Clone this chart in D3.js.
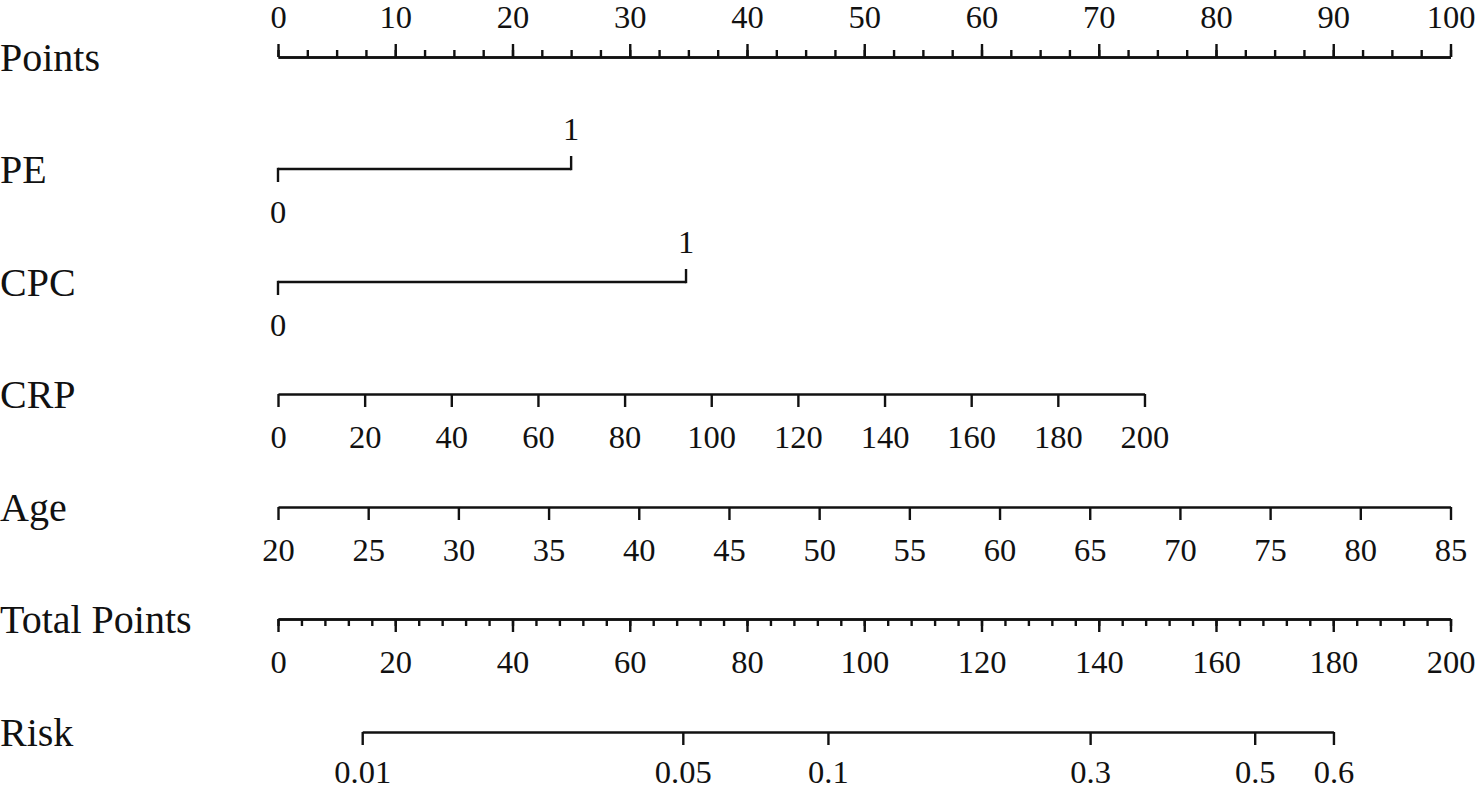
<!DOCTYPE html>
<html>
<head>
<meta charset="utf-8">
<script src="https://cdn.jsdelivr.net/npm/d3@7"></script>
<style>
  html, body { margin: 0; padding: 0; background: #fff; }
  svg text { font-family: "Liberation Serif", "Times New Roman", serif; fill: #111; }
</style>
</head>
<body>
<svg id="chart" width="1477" height="790"></svg>
<script>
// ---- Data ----
const rowNames = ["Points", "PE", "CPC", "CRP", "Age", "Total Points", "Risk"];
const pointsTicks = d3.range(0, 101, 10);
const pointsMinorTicks = d3.range(0, 100.01, 2.5);
const peValues = [0, 1];
const pePoints = [0, 25.0];
const cpcValues = [0, 1];
const cpcPoints = [0, 34.8];
const crpTicks = d3.range(0, 201, 20);
const crpPointsRange = [0, 73.9];
const ageTicks = d3.range(20, 86, 5);
const agePointsRange = [0, 100];
const totalTicks = d3.range(0, 201, 20);
const totalMinorTicks = d3.range(0, 200.01, 4);
const riskTicks = [0.01, 0.05, 0.1, 0.3, 0.5, 0.6];
const riskIntercept = 166.6;   // total points where logit(risk) = 0
const riskSlope = 33.13;       // total points per logit unit

// ---- Layout ----
const svg = d3.select("#chart");
const x0 = 278, x1 = 1450.5;
const lineY = { "Points": 57, "PE": 169, "CPC": 282, "CRP": 394, "Age": 507, "Total Points": 619, "Risk": 732 };
const tickFont = 32.5, nameFont = 40;
const stroke = "#111", sw = 2.4;
const majorLen = 13, minorLen = 7;
const fontFam = '"Liberation Serif", "Times New Roman", serif';

const xPoints = d3.scaleLinear().domain([0, 100]).range([x0, x1]);
const xTotal = d3.scaleLinear().domain([0, 200]).range([x0, x1]);

// Row names
svg.selectAll("text.name").data(rowNames).join("text")
  .attr("class", "name")
  .attr("x", 0)
  .attr("y", d => lineY[d] + 14)
  .attr("font-size", nameFont)
  .attr("font-family", fontFam)
  .text(d => d);

function styleAxis(g) {
  g.attr("font-family", fontFam).attr("font-size", tickFont);
  g.selectAll("path.domain").attr("stroke", stroke).attr("stroke-width", sw);
  g.selectAll(".tick line").attr("stroke", stroke).attr("stroke-width", sw);
  g.selectAll(".tick text")
    .attr("font-size", tickFont)
    .attr("font-family", fontFam)
    .attr("fill", "#111");
}

// Points axis (ticks upward)
svg.append("g").attr("transform", `translate(0,${lineY["Points"]})`)
  .call(d3.axisTop(xPoints).tickValues(pointsMinorTicks).tickSize(minorLen).tickSizeOuter(0).tickFormat(""))
  .call(styleAxis);
svg.append("g").attr("transform", `translate(0,${lineY["Points"]})`)
  .call(d3.axisTop(xPoints).tickValues(pointsTicks).tickSize(majorLen).tickSizeOuter(0).tickPadding(16).tickFormat(d3.format("d")))
  .call(styleAxis);

// Binary variables: 0 tick down with label below, 1 tick up with label above
function binaryRow(name, values, pts) {
  const y = lineY[name];
  const g = svg.append("g");
  g.append("line")
    .attr("x1", xPoints(pts[0])).attr("x2", xPoints(pts[1]))
    .attr("y1", y).attr("y2", y)
    .attr("stroke", stroke).attr("stroke-width", sw);
  values.forEach((v, i) => {
    const up = i === 1;
    const x = xPoints(pts[i]);
    g.append("line")
      .attr("x1", x).attr("x2", x)
      .attr("y1", up ? y + sw / 2 : y - sw / 2)
      .attr("y2", up ? y - majorLen : y + majorLen)
      .attr("stroke", stroke).attr("stroke-width", sw);
    g.append("text")
      .attr("x", x)
      .attr("y", up ? y - 29 : y + 54)
      .attr("text-anchor", "middle")
      .attr("font-size", tickFont)
      .attr("font-family", fontFam)
      .text(v);
  });
}
binaryRow("PE", peValues, pePoints);
binaryRow("CPC", cpcValues, cpcPoints);

// Continuous variable axes (ticks downward)
function contRow(name, ticks, ptsRange) {
  const sc = d3.scaleLinear()
    .domain([ticks[0], ticks[ticks.length - 1]])
    .range([xPoints(ptsRange[0]), xPoints(ptsRange[1])]);
  svg.append("g").attr("transform", `translate(0,${lineY[name]})`)
    .call(d3.axisBottom(sc).tickValues(ticks).tickSize(majorLen).tickSizeOuter(0).tickPadding(18).tickFormat(d3.format("d")))
    .call(styleAxis);
}
contRow("CRP", crpTicks, crpPointsRange);
contRow("Age", ageTicks, agePointsRange);

// Total points axis
svg.append("g").attr("transform", `translate(0,${lineY["Total Points"]})`)
  .call(d3.axisBottom(xTotal).tickValues(totalMinorTicks).tickSize(minorLen).tickSizeOuter(0).tickFormat(""))
  .call(styleAxis);
svg.append("g").attr("transform", `translate(0,${lineY["Total Points"]})`)
  .call(d3.axisBottom(xTotal).tickValues(totalTicks).tickSize(majorLen).tickSizeOuter(0).tickPadding(18).tickFormat(d3.format("d")))
  .call(styleAxis);

// Risk axis (linear in logit)
const logit = p => Math.log(p / (1 - p));
const expit = l => 1 / (1 + Math.exp(-l));
const riskDom = [logit(riskTicks[0]), logit(riskTicks[riskTicks.length - 1])];
const xRisk = d3.scaleLinear()
  .domain(riskDom)
  .range(riskDom.map(l => xTotal(riskIntercept + riskSlope * l)));
svg.append("g").attr("transform", `translate(0,${lineY["Risk"]})`)
  .call(d3.axisBottom(xRisk).tickValues(riskTicks.map(logit)).tickSize(majorLen).tickSizeOuter(0).tickPadding(15)
    .tickFormat(l => String(+expit(l).toFixed(2))))
  .call(styleAxis);
</script>
</body>
</html>
